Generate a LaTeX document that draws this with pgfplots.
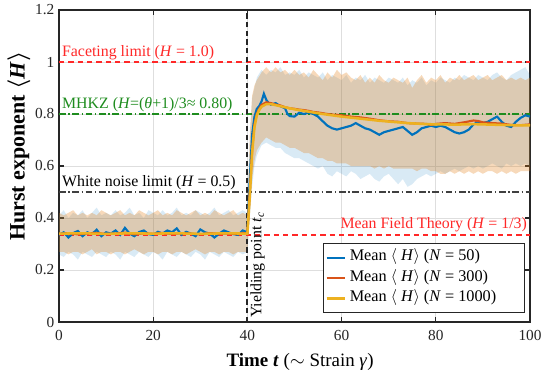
\documentclass[border=0pt]{standalone}
\usepackage{amsmath}
\usepackage{pgfplots}
\pgfplotsset{compat=1.18}
\usepackage{pgfplotstable}
\usepgfplotslibrary{fillbetween}
\usepackage{fontspec}
\setmainfont{Liberation Serif}

\definecolor{mblue}{RGB}{0,114,189}
\definecolor{morange}{RGB}{217,83,25}
\definecolor{myellow}{RGB}{237,177,32}
\definecolor{mband}{RGB}{227,130,28}
\definecolor{mred}{RGB}{255,40,40}
\definecolor{mgreen}{RGB}{30,140,30}
\definecolor{mgray}{RGB}{38,38,38}

\pgfplotstableread{
x bl bh ol oh
0 0.26 0.41 0.27 0.42
1 0.25 0.43 0.27 0.41
2 0.27 0.40 0.26 0.42
3 0.26 0.42 0.27 0.43
4 0.24 0.41 0.27 0.41
5 0.27 0.43 0.26 0.42
6 0.26 0.40 0.27 0.41
7 0.25 0.42 0.28 0.42
8 0.27 0.44 0.26 0.41
9 0.26 0.41 0.27 0.43
10 0.25 0.42 0.27 0.42
11 0.27 0.41 0.26 0.41
12 0.26 0.43 0.27 0.42
13 0.24 0.41 0.27 0.43
14 0.27 0.42 0.26 0.41
15 0.26 0.44 0.27 0.42
16 0.25 0.41 0.28 0.41
17 0.27 0.42 0.27 0.43
18 0.26 0.40 0.26 0.42
19 0.25 0.43 0.27 0.41
20 0.27 0.42 0.27 0.42
21 0.26 0.41 0.26 0.43
22 0.24 0.43 0.27 0.41
23 0.27 0.41 0.27 0.42
24 0.26 0.42 0.26 0.41
25 0.25 0.44 0.27 0.43
26 0.27 0.41 0.27 0.42
27 0.26 0.42 0.26 0.41
28 0.25 0.41 0.27 0.42
29 0.27 0.43 0.28 0.43
30 0.26 0.42 0.27 0.41
31 0.24 0.41 0.26 0.42
32 0.27 0.42 0.27 0.41
33 0.26 0.44 0.27 0.43
34 0.25 0.41 0.26 0.42
35 0.27 0.42 0.27 0.41
36 0.26 0.43 0.27 0.42
37 0.25 0.41 0.26 0.43
38 0.27 0.42 0.27 0.41
39 0.26 0.43 0.27 0.42
40 0.27 0.42 0.27 0.41
40.5 0.40 0.70 0.42 0.72
41 0.52 0.86 0.55 0.87
41.5 0.60 0.90 0.62 0.91
42 0.64 0.94 0.66 0.93
43 0.68 0.97 0.69 0.96
44 0.69 0.95 0.71 0.98
45 0.68 0.97 0.70 0.96
46 0.67 0.96 0.69 0.98
47 0.67 0.98 0.69 0.96
48 0.65 0.95 0.68 0.97
49 0.64 0.96 0.67 0.95
50 0.63 0.95 0.67 0.97
51 0.63 0.97 0.66 0.95
52 0.62 0.94 0.65 0.96
53 0.61 0.96 0.65 0.94
54 0.60 0.95 0.64 0.97
55 0.59 0.94 0.63 0.95
56 0.60 0.96 0.63 0.93
57 0.57 0.93 0.62 0.96
58 0.56 0.95 0.62 0.94
59 0.58 0.94 0.61 0.97
60 0.57 0.93 0.61 0.95
61 0.56 0.95 0.61 0.96
62 0.58 0.92 0.60 0.94
63 0.57 0.94 0.60 0.93
64 0.55 0.93 0.60 0.95
65 0.56 0.95 0.60 0.92
66 0.57 0.92 0.60 0.94
67 0.55 0.94 0.59 0.92
68 0.54 0.93 0.60 0.95
69 0.56 0.92 0.59 0.93
70 0.57 0.94 0.60 0.92
71 0.55 0.93 0.59 0.94
72 0.53 0.92 0.59 0.93
73 0.55 0.94 0.59 0.92
74 0.52 0.91 0.59 0.94
75 0.53 0.93 0.59 0.90
76 0.55 0.92 0.58 0.93
77 0.56 0.94 0.59 0.95
78 0.57 0.91 0.59 0.92
79 0.56 0.93 0.58 0.94
80 0.57 0.92 0.58 0.93
81 0.58 0.94 0.57 0.95
82 0.57 0.93 0.57 0.92
83 0.58 0.92 0.58 0.94
84 0.59 0.94 0.57 0.93
85 0.58 0.93 0.58 0.95
86 0.59 0.95 0.57 0.93
87 0.60 0.94 0.58 0.94
88 0.59 0.93 0.57 0.95
89 0.60 0.95 0.58 0.93
90 0.59 0.94 0.57 0.94
91 0.60 0.93 0.58 0.95
92 0.61 0.95 0.58 0.93
93 0.60 0.96 0.57 0.94
94 0.59 0.94 0.58 0.95
95 0.61 0.93 0.57 0.93
96 0.60 0.95 0.58 0.94
97 0.61 0.96 0.57 0.93
98 0.60 0.97 0.58 0.94
99 0.61 0.98 0.58 0.93
100 0.60 0.95 0.58 0.94
}\bands

\pgfplotstableread{
x y
0 0.335
1 0.345
2 0.325
3 0.342
4 0.350
5 0.330
6 0.345
7 0.338
8 0.355
9 0.330
10 0.345
11 0.340
12 0.352
13 0.335
14 0.362
15 0.340
16 0.330
17 0.346
18 0.352
19 0.338
20 0.335
21 0.347
22 0.340
23 0.352
24 0.345
25 0.360
26 0.335
27 0.347
28 0.340
29 0.330
30 0.356
31 0.345
32 0.340
33 0.325
34 0.340
35 0.352
36 0.345
37 0.338
38 0.335
39 0.352
40 0.345
40.5 0.55
41 0.72
41.5 0.79
42 0.82
42.5 0.83
43 0.848
43.5 0.878
44 0.855
44.5 0.842
45 0.836
46 0.842
47 0.83
48 0.822
48.5 0.80
49 0.792
50 0.79
51 0.805
52 0.80
53 0.806
54 0.80
55 0.79
56 0.772
57 0.755
58 0.745
59 0.74
60 0.745
61 0.75
62 0.755
63 0.765
64 0.755
65 0.745
66 0.74
67 0.73
68 0.72
69 0.73
70 0.735
71 0.74
72 0.745
73 0.75
74 0.735
75 0.72
76 0.73
77 0.745
78 0.75
79 0.755
80 0.75
81 0.755
82 0.75
83 0.74
84 0.73
85 0.725
86 0.73
87 0.74
88 0.76
89 0.77
90 0.765
91 0.77
92 0.78
93 0.79
94 0.77
95 0.755
96 0.75
97 0.77
98 0.785
99 0.795
100 0.79
}\meanA

\pgfplotstableread{
x y
0 0.338
2 0.342
4 0.337
6 0.341
8 0.343
10 0.338
12 0.340
14 0.344
16 0.337
18 0.341
20 0.339
22 0.343
24 0.338
26 0.342
28 0.340
30 0.337
32 0.342
34 0.339
36 0.341
38 0.338
39 0.343
40 0.340
40.5 0.50
41 0.66
41.5 0.76
42 0.80
42.5 0.82
43 0.835
44 0.845
45 0.842
46 0.836
47 0.833
48 0.826
49 0.822
50 0.82
51 0.817
52 0.815
53 0.812
54 0.808
55 0.806
56 0.803
57 0.80
58 0.798
59 0.797
60 0.795
62 0.79
64 0.787
66 0.782
68 0.776
70 0.772
72 0.77
74 0.765
76 0.763
78 0.762
79 0.758
80 0.762
82 0.765
84 0.762
86 0.768
88 0.775
89 0.773
90 0.768
92 0.765
94 0.763
96 0.758
98 0.757
100 0.76
}\meanB

\pgfplotstableread{
x y
0 0.340
5 0.341
10 0.339
15 0.341
20 0.340
25 0.341
30 0.339
35 0.341
40 0.340
40.5 0.48
41 0.65
41.5 0.75
42 0.795
42.5 0.815
43 0.828
44 0.838
45 0.838
46 0.834
48 0.826
50 0.818
52 0.812
54 0.806
56 0.80
58 0.795
60 0.79
62 0.786
64 0.782
66 0.778
68 0.774
70 0.771
72 0.768
74 0.765
76 0.763
78 0.761
80 0.76
82 0.76
84 0.759
86 0.76
88 0.761
90 0.76
92 0.759
94 0.758
96 0.757
98 0.756
100 0.756
}\meanC

\begin{document}
\begin{tikzpicture}
\begin{axis}[
  name=ax,
  scale only axis,
  width=353.25pt, height=234pt,
  xmin=0, xmax=100, ymin=0, ymax=1.2,
  xtick={0,20,40,60,80,100},
  ytick={0,0.2,0.4,0.6,0.8,1,1.2},
  grid=major,
  major grid style={draw=black!13, line width=0.7pt},
  tick align=inside,
  major tick length=4pt,
  tick style={mgray, line width=1pt},
  axis line style={mgray, line width=1.1pt},
  /pgf/number format/assume math mode=true,
  xticklabel={\pgfmathprintnumber{\tick}},
  yticklabel={\pgfmathprintnumber{\tick}},
  ticklabel style={font=\fontsize{11.5}{12}\selectfont, text=mgray},
  xticklabel style={yshift=-2.5pt},
  xlabel={{\bfseries Time \textit{t}} ($\sim$ Strain \textit{γ})},
  ylabel={\bfseries Hurst exponent $\boldsymbol{\langle}$\textit{H}$\boldsymbol{\rangle}$},
  xlabel style={font=\fontsize{14.2}{15}\selectfont, at={(axis description cs:0.512,-0.143)}, anchor=base},
  ylabel style={font=\fontsize{16.5}{17}\selectfont, at={(axis description cs:-0.085,0.564)}, anchor=center},
  legend style={at={(0.989,0.029)}, anchor=south east,
    font=\fontsize{12.2}{12}\selectfont, draw=mgray, line width=0.9pt,
    nodes={inner sep=0pt, text height=0.72em, text depth=0.26em},
    row sep=5.5pt, inner xsep=1.5pt, inner ysep=5.5pt,
    /tikz/every odd column/.append style={column sep=2.5pt}},
  legend cell align=left,
  legend image code/.code={\draw[#1, line width=1.6pt] (0pt,0pt) -- (14pt,0pt);},
]
% bands
\addplot[name path=bl, draw=none, forget plot] table[x=x,y=bl]{\bands};
\addplot[name path=bh, draw=none, forget plot] table[x=x,y=bh]{\bands};
\addplot[name path=ol, draw=none, forget plot] table[x=x,y=ol]{\bands};
\addplot[name path=oh, draw=none, forget plot] table[x=x,y=oh]{\bands};
\addplot[fill=mblue, fill opacity=0.15, draw=none, forget plot] fill between[of=bl and bh];
\addplot[fill=mband, fill opacity=0.3, draw=none, forget plot] fill between[of=ol and oh];

% reference lines
\addplot[mred, line width=0.9pt, dash pattern=on 4pt off 3pt, forget plot] coordinates {(0,1) (100,1)};
\addplot[mgreen, line width=0.9pt, dash pattern=on 5pt off 2pt on 1pt off 2pt, forget plot] coordinates {(0,0.8) (100,0.8)};
\addplot[black!75, line width=0.9pt, dash pattern=on 5pt off 2pt on 1pt off 2pt, forget plot] coordinates {(0,0.5) (100,0.5)};
\addplot[mred, line width=1.3pt, dash pattern=on 4pt off 3pt, forget plot] coordinates {(0,0.3333) (100,0.3333)};
\addplot[black!85, line width=1.4pt, dash pattern=on 4pt off 2.5pt, forget plot] coordinates {(40,0) (40,1.2)};

% means
\addplot[mblue, line width=1.6pt] table[x=x,y=y]{\meanA};
\addlegendentry{Mean $\langle$ \textit{H}$\rangle$ (\textit{N} = 50)}
\addplot[morange, line width=1.6pt] table[x=x,y=y]{\meanB};
\addlegendentry{Mean $\langle$ \textit{H}$\rangle$ (\textit{N} = 300)}
\addplot[myellow, line width=1.9pt] table[x=x,y=y]{\meanC};
\addlegendentry{Mean $\langle$ \textit{H}$\rangle$ (\textit{N} = 1000)\hspace*{19.5pt}}

% annotations
\node[anchor=base west, inner sep=0pt, yshift=4pt, text=mred, font=\fontsize{11.9}{12}\selectfont] at (axis cs:0.6,1.0) {Faceting limit (\textit{H} = 1.0)};
\node[anchor=base west, inner sep=0pt, yshift=4.5pt, text=mgreen, font=\fontsize{11.9}{12}\selectfont] at (axis cs:0.6,0.8) {MHKZ (\textit{H}=(\textit{θ}+1)/3≈ 0.80)};
\node[anchor=base west, inner sep=0pt, yshift=4.5pt, text=black, font=\fontsize{11.9}{12}\selectfont] at (axis cs:0.6,0.5) {White noise limit (\textit{H} = 0.5)};
\node[anchor=base east, inner sep=0pt, yshift=5pt, text=mred, font=\fontsize{11.9}{12}\selectfont] at (axis cs:99.4,0.3333) {Mean Field Theory (\textit{H} = 1/3)};
\node[anchor=north west, rotate=90, inner sep=1pt, font=\fontsize{11.9}{12}\selectfont] at (axis cs:40.3,0.01) {Yielding point \textit{t}$_{\textit{c}}$};
\end{axis}
\pgfresetboundingbox
\path ([xshift=-44.25pt,yshift=-37.5pt]ax.south west) rectangle ([xshift=12.75pt,yshift=7.5pt]ax.north east);
\end{tikzpicture}
\end{document}
